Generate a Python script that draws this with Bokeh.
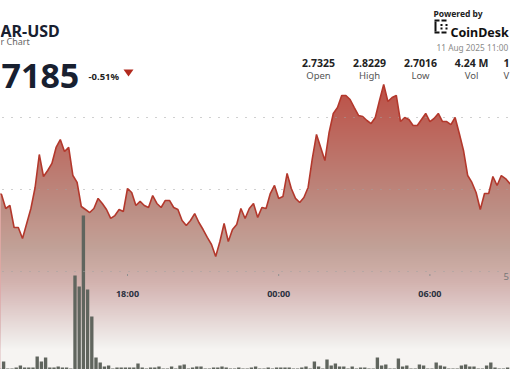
import numpy as np
from bokeh.plotting import figure
from bokeh.models import Range1d
from bokeh.core.properties import value
from bokeh.embed import file_html
from bokeh.resources import INLINE

# ---------------- data ----------------
start_hour = 12 + 50 / 60          # 10 Aug 12:50, 10-minute candles
step_hours = 1 / 6

prices = [
    2.7480, 2.7465, 2.7368, 2.7389, 2.7236, 2.7236, 2.7160, 2.7264, 2.7368, 2.7514,
    2.7743, 2.7590, 2.7632, 2.7681, 2.7792, 2.7847, 2.7764, 2.7792, 2.7597, 2.7549,
    2.7382, 2.7361, 2.7340, 2.7368, 2.7438, 2.7403, 2.7361, 2.7299, 2.7319, 2.7361,
    2.7347, 2.7507, 2.7479, 2.7389, 2.7417, 2.7389, 2.7375, 2.7458, 2.7403, 2.7375,
    2.7424, 2.7424, 2.7375, 2.7361, 2.7285, 2.7250, 2.7285, 2.7333, 2.7271, 2.7222,
    2.7167, 2.7118, 2.7035, 2.7139, 2.7264, 2.7139, 2.7222, 2.7257, 2.7368, 2.7299,
    2.7368, 2.7403, 2.7306, 2.7375, 2.7368, 2.7472, 2.7528, 2.7438, 2.7451, 2.7611,
    2.7507, 2.7438, 2.7410, 2.7444, 2.7514, 2.7715, 2.7882, 2.7792, 2.7701, 2.7896,
    2.8028, 2.8069, 2.8153, 2.8153, 2.8125, 2.8069, 2.8014, 2.8007, 2.7979, 2.7958,
    2.8000, 2.8118, 2.8229, 2.8111, 2.8139, 2.8153, 2.7972, 2.8000, 2.7986, 2.7944,
    2.7944, 2.7986, 2.8028, 2.7972, 2.7993, 2.8028, 2.7972, 2.7972, 2.7951, 2.8000,
    2.7889, 2.7771, 2.7597, 2.7549, 2.7479, 2.7361, 2.7472, 2.7472, 2.7590, 2.7528,
    2.7597, 2.7576, 2.7542, 2.7521,
]

volumes_k = [
    8, 41, 5, 5, 10, 20, 10, 10, 10, 66,
    41, 61, 10, 10, 15, 10, 10, 5, 480, 423,
    786, 408, 270, 61, 36, 15, 20, 5, 10, 10,
    10, 10, 10, 31, 10, 5, 10, 10, 15, 5,
    5, 15, 5, 20, 26, 5, 10, 15, 15, 5,
    5, 10, 10, 15, 10, 5, 5, 10, 5, 5,
    10, 15, 5, 5, 10, 5, 10, 10, 10, 10,
    5, 5, 10, 15, 5, 41, 15, 5, 51, 20,
    31, 15, 15, 5, 15, 5, 10, 10, 5, 5,
    61, 20, 26, 5, 5, 56, 15, 20, 5, 5,
    26, 20, 5, 5, 36, 20, 15, 5, 5, 5,
    20, 26, 15, 15, 5, 5, 20, 36, 10, 5,
    5, 10, 5,
]

tick_hours = [18, 24, 30]
tick_labels = ["18:00", "00:00", "06:00"]
price_grid = [2.75, 2.80]
volume_grid = [500]
volume_grid_labels = ["5"]

ticker = "AR-USD"
subtitle = "r Chart"
last_price = "7185"
change_text = "-0.51%"
date_text = "11 Aug 2025 11:00"
stat_values = ["2.7325", "2.8229", "2.7016", "4.24 M", "1"]
stat_labels = ["Open", "High", "Low", "Vol", "V"]

# ---------------- layout ----------------
W, H = 510, 369
PX_PER_HOUR = 25.2
PX_PER_PRICE = 1440.0
X_LEFT = 18 - 127 / PX_PER_HOUR
Y_TOP = 2.75 + 189 / PX_PER_PRICE
Y_BOT = Y_TOP - H / PX_PER_PRICE
VOL_TOP = H / 98.0 * 500


def hx(xr):
    return X_LEFT + xr / PX_PER_HOUR


def py(yr):
    return Y_TOP - yr / PX_PER_PRICE


times = start_hour + np.arange(len(prices)) * step_hours
vol_times = start_hour + np.arange(len(volumes_k)) * step_hours + step_hours / 2

p = figure(width=W, height=H, output_backend="svg", toolbar_location=None,
           x_range=Range1d(X_LEFT, X_LEFT + W / PX_PER_HOUR),
           y_range=Range1d(Y_BOT, Y_TOP),
           x_axis_location=None, y_axis_location=None,
           min_border=0, outline_line_color=None)
p.extra_y_ranges = {"vol": Range1d(0, VOL_TOP)}
p.xgrid.visible = False
p.ygrid.visible = False
p.background_fill_color = "white"
p.border_fill_color = "white"

# area under the price line in full red, then nested white veils (gradient)
RED = (188, 80, 70)
p.varea(x=times, y1=Y_BOT, y2=prices, fill_color="#%02x%02x%02x" % RED)

top_px, fade_px = 84, 348


def strength(r):
    t = min(1.0, max(0.0, (r - top_px) / (fade_px - top_px)))
    return 0.965 * (1 - t) + 0.035


rows = list(range(top_px + 2, fade_px + 1, 2))
v_tops, v_alphas = [], []
prev = 1.0
for r in rows:
    s = strength(r)
    v_tops.append(py(r))
    v_alphas.append(1 - s / prev)
    prev = s
p.quad(left=X_LEFT - 1, right=X_LEFT + W / PX_PER_HOUR + 1, top=v_tops,
       bottom=Y_BOT - 0.01, fill_color="white", fill_alpha=v_alphas,
       line_color=None)

# volume bars
p.vbar(x=vol_times, top=volumes_k, bottom=0, width=step_hours * 0.8,
       y_range_name="vol", fill_color="#60655e", line_color=None)

# dotted grid lines
for g in price_grid:
    p.segment(x0=hx(2), x1=hx(512), y0=g, y1=g, line_color="#a0a0a0",
              line_width=1, line_dash="1 8")
for g in volume_grid:
    p.segment(x0=hx(2), x1=hx(500), y0=g, y1=g, y_range_name="vol",
              line_color="#a0a0a0", line_width=1, line_dash="1 8")

# price line
p.line(times, prices, line_color="#b3382c", line_width=1.6)

# time ticks and labels
p.segment(x0=tick_hours, x1=tick_hours, y0=py(273.5), y1=py(275.5),
          line_color="#909090", line_width=1)
p.text(x=tick_hours, y=[py(293)] * 3, text=tick_labels,
       text_font=value("Noto Sans"), text_font_style="bold",
       text_font_size="9px", text_color="#2b3140", text_align="center",
       text_baseline="alphabetic")
p.text(x=[hx(503)], y=[py(275.5)], text=volume_grid_labels,
       text_font=value("Noto Sans"), text_font_size="9.5px",
       text_color="#777777", text_align="left", text_baseline="alphabetic")


def label(txt, xr, yr, size, color, bold=False, align="left"):
    p.text(x=[hx(xr)], y=[py(yr)], text=[txt], text_font=value("Noto Sans"),
           text_font_style="bold" if bold else "normal",
           text_font_size=size, text_color=color, text_align=align,
           text_baseline="alphabetic")


label(ticker, 0, 30, "16px", "#182030", bold=True)
label(subtitle, 0, 41, "9px", "#666666")
label(last_price, 1, 75, "34px", "#182030", bold=True)
label(change_text, 88, 76, "9.5px", "#222222", bold=True)
p.patch(x=[hx(123), hx(133), hx(128)], y=[py(69), py(69), py(76)],
        fill_color="#b22a1e", line_color=None)

label("Powered by", 433, 12.5, "8.5px", "#222222", bold=True)
label("CoinDesk", 450, 32, "12.5px", "#111111", bold=True)
label(date_text, 436, 47, "8.3px", "#8a8a8a")

# CoinDesk icon
icon = [(434, 19, 439, 21), (434, 21, 436, 31), (434, 31, 439, 33),
        (441, 19, 446, 21), (441, 31, 446, 33),
        (440, 23.5, 442, 25.5), (440, 27, 442, 29),
        (445, 23.5, 447, 25.5), (445, 27, 447, 29)]
p.quad(left=[hx(a[0]) for a in icon], right=[hx(a[2]) for a in icon],
       top=[py(a[1]) for a in icon], bottom=[py(a[3]) for a in icon],
       fill_color="#111111", line_color=None)

stat_x = [318, 369, 420, 471]
for sx, v, lb in zip(stat_x, stat_values[:4], stat_labels[:4]):
    label(v, sx, 62.5, "10.5px", "#222222", bold=True, align="center")
    label(lb, sx, 74.5, "9.5px", "#555555", align="center")
label(stat_values[4], 503, 62.5, "10.5px", "#222222", bold=True)
label(stat_labels[4], 503, 74.5, "9.5px", "#555555")

open("out.html", "w").write(file_html(p, INLINE))
